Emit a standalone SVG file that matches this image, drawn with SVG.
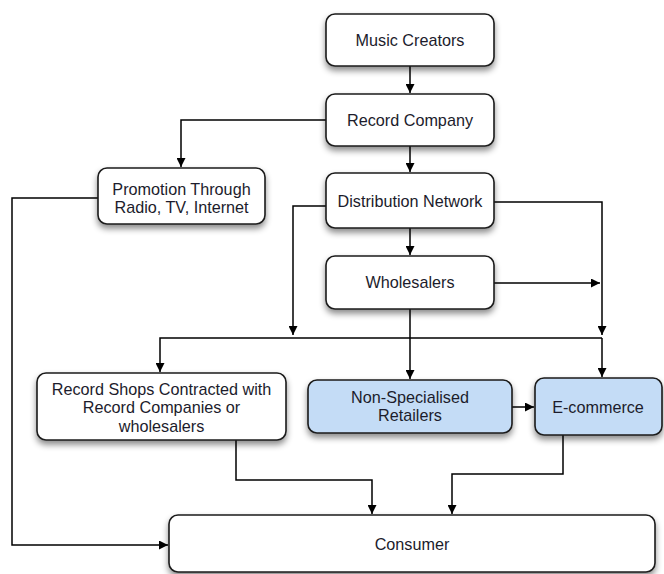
<svg xmlns="http://www.w3.org/2000/svg" width="664" height="574" viewBox="0 0 664 574">
  <defs>
    <filter id="shadow" x="-20%" y="-30%" width="140%" height="180%">
      <feDropShadow dx="0" dy="4" stdDeviation="3" flood-color="#000" flood-opacity="0.45"/>
    </filter>
    <marker id="arrow" viewBox="0 0 10 10" refX="10" refY="5" markerWidth="10" markerHeight="9" markerUnits="userSpaceOnUse" orient="auto">
      <path d="M0,0 L10,5 L0,10 Z" fill="#000"/>
    </marker>
  </defs>
  <style>
    .box { fill: #fff; stroke: #1a1a1a; stroke-width: 1.6; filter: url(#shadow); }
    .blue { fill: #c4dcf6; }
    .label { font-family: "Liberation Sans", Arial, sans-serif; font-size: 16.2px; fill: #1c1c2c; text-anchor: middle; }
    .conn { fill: none; stroke: #000; stroke-width: 1.5; }
    .arr { marker-end: url(#arrow); }
  </style>
  <rect width="664" height="574" fill="#fff"/>

  <g id="connectors">
    <path class="conn arr" d="M410,66 V93"/>
    <path class="conn arr" d="M410,146 V172"/>
    <path class="conn arr" d="M326,120 H181 V167"/>
    <path class="conn arr" d="M410,228 V255"/>
    <path class="conn arr" d="M326,206 H293 V335"/>
    <path class="conn arr" d="M494,202 H602 V335"/>
    <path class="conn arr" d="M494,283 H600"/>
    <path class="conn arr" d="M410,309 V379"/>
    <path class="conn arr" d="M602,338 H160 V372"/>
    <path class="conn arr" d="M602,338 V377"/>
    <path class="conn arr" d="M512,407 H534"/>
    <path class="conn arr" d="M236,440 V480 H372 V514"/>
    <path class="conn arr" d="M563,435 V474 H452 V514"/>
    <path class="conn arr" d="M98,198 H12 V545 H168"/>
  </g>

  <g id="music-creators">
    <rect class="box" x="326" y="14" width="168" height="52" rx="9"/>
    <text class="label" x="410" y="46">Music Creators</text>
  </g>
  <g id="record-company">
    <rect class="box" x="326" y="94" width="168" height="52" rx="9"/>
    <text class="label" x="410" y="126">Record Company</text>
  </g>
  <g id="promotion">
    <rect class="box" x="98" y="168" width="167" height="56" rx="9"/>
    <text class="label" x="181.5" y="195">Promotion Through</text>
    <text class="label" x="181.5" y="213">Radio, TV, Internet</text>
  </g>
  <g id="distribution-network">
    <rect class="box" x="326" y="173" width="168" height="55" rx="9"/>
    <text class="label" x="410" y="207">Distribution Network</text>
  </g>
  <g id="wholesalers">
    <rect class="box" x="326" y="256" width="168" height="53" rx="9"/>
    <text class="label" x="410" y="288">Wholesalers</text>
  </g>
  <g id="record-shops">
    <rect class="box" x="37" y="373" width="249" height="67" rx="9"/>
    <text class="label" x="161.5" y="395">Record Shops Contracted with</text>
    <text class="label" x="161.5" y="413">Record Companies or</text>
    <text class="label" x="161.5" y="432">wholesalers</text>
  </g>
  <g id="non-specialised-retailers">
    <rect class="box blue" x="308" y="380" width="204" height="53" rx="9"/>
    <text class="label" x="410" y="403">Non-Specialised</text>
    <text class="label" x="410" y="421">Retailers</text>
  </g>
  <g id="e-commerce">
    <rect class="box blue" x="535" y="378" width="127" height="57" rx="9"/>
    <text class="label" x="598" y="413">E-commerce</text>
  </g>
  <g id="consumer">
    <rect class="box" x="169" y="515" width="486" height="57" rx="9"/>
    <text class="label" x="412" y="550">Consumer</text>
  </g>
</svg>
